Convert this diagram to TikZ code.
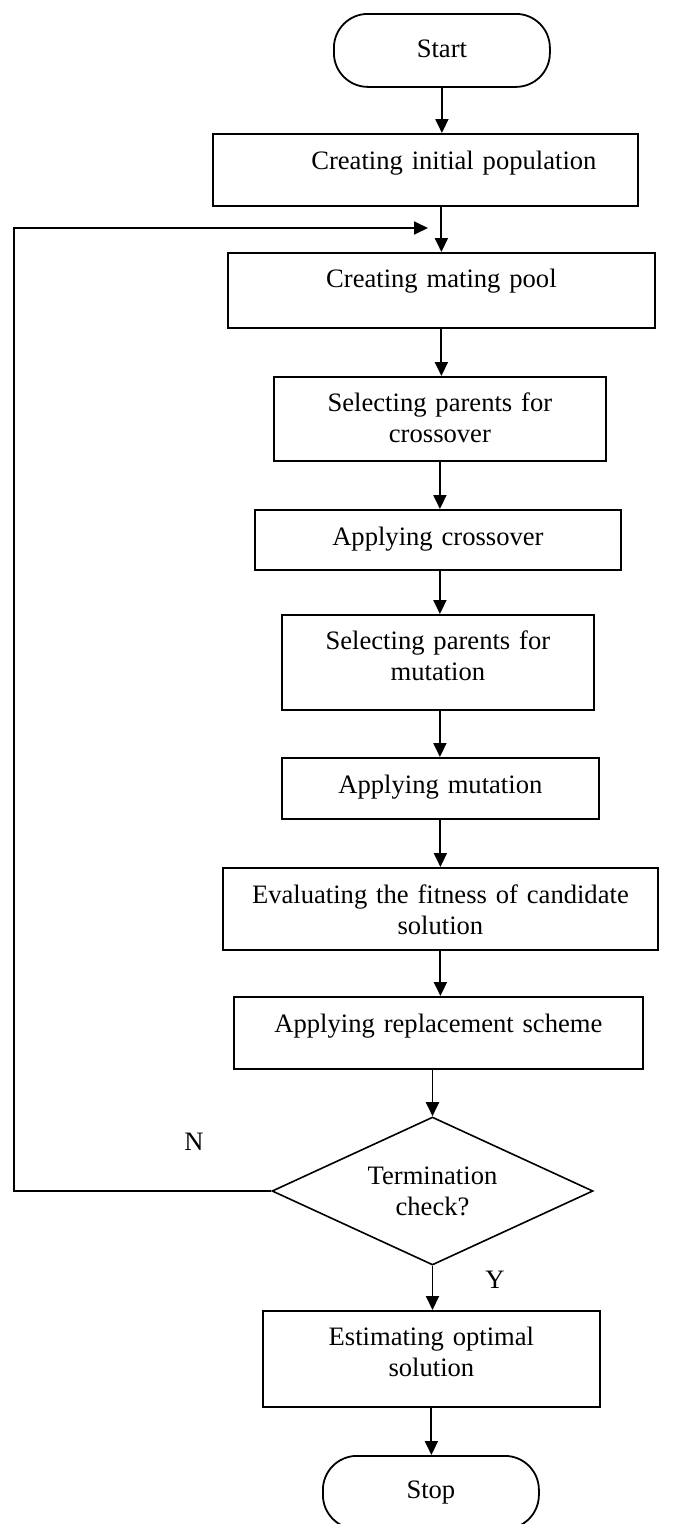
\documentclass[tikz,border=0pt]{standalone}
\usepackage{fontspec}
\setmainfont{Liberation Serif}
\usetikzlibrary{arrows.meta,shapes.geometric}

\tikzset{
  every node/.style={font={\fontsize{26.6}{31}\selectfont}},
  procbox/.style={draw, line width=1.8pt, rectangle, anchor=north west,
    inner sep=0pt, align=center},
  termbox/.style={procbox, rounded corners=34pt},
  decbox/.style={draw, line width=1.6pt, diamond, inner sep=0pt, aspect=2.17,
    minimum width=321pt, minimum height=148pt, align=center},
  arr/.style={line width=1.9pt, -{Triangle[length=14pt,width=13pt]}},
  lbl/.style={inner sep=0pt}
}

\begin{document}
\begin{tikzpicture}[x=1pt,y=-1pt]
\useasboundingbox (0,0) rectangle (685,1524);

% process steps, placed by their top-left corner
\node[termbox, text width=216pt, text height=44pt, text depth=29pt] (start) at (333,13) {Start};
\node[procbox, text width=425pt, text height=36pt, text depth=36pt] (init) at (212,133) {\hspace*{57pt}Creating initial population};
\node[procbox, text width=427pt, text height=35pt, text depth=40pt] (pool) at (227,252) {Creating mating pool};
\node[procbox, text width=332pt, text height=35pt, text depth=49pt] (selx) at (273,376) {Selecting parents for\\crossover};
\node[procbox, text width=366pt, text height=36pt, text depth=24pt] (cross) at (254,509) {Applying crossover};
\node[procbox, text width=312pt, text height=35pt, text depth=60pt] (selm) at (281,614) {Selecting parents for\\mutation};
\node[procbox, text width=317pt, text height=36pt, text depth=25pt] (mut) at (281,757) {Applying mutation};
\node[procbox, text width=435pt, text height=36pt, text depth=46pt] (eval) at (222,867) {Evaluating the fitness of candidate\\solution};
\node[procbox, text width=409pt, text height=36pt, text depth=36pt] (repl) at (233,996) {Applying replacement scheme};
\node[decbox] (dec) at (432.5,1191) {Termination\\check?};
\node[procbox, text width=337pt, text height=35pt, text depth=61pt] (est) at (262,1310) {Estimating optimal\\solution};
\node[termbox, text width=216pt, text height=43pt, text depth=30pt] (stop) at (322,1455) {Stop};

% branch labels
\node[lbl] (nlab) at (194,1142) {N};
\node[lbl] (ylab) at (495,1280) {Y};

% main flow
\draw[arr] (start.south) -- (start.south |- init.north);
\draw[arr] (pool.north |- init.south) -- (pool.north);
\draw[arr] (pool.south) -- (pool.south |- selx.north);
\draw[arr] (selx.south) -- (selx.south |- cross.north);
\draw[arr] (selx.south |- cross.south) -- (selx.south |- selm.north);
\draw[arr] (selx.south |- selm.south) -- (selx.south |- mut.north);
\draw[arr] (mut.south) -- (mut.south |- eval.north);
\draw[arr] (mut.south |- eval.south) -- (mut.south |- repl.north);
\draw[arr] (dec.north |- repl.south) -- (dec.north);
\draw[arr] (dec.south) -- (dec.south |- est.north);
\draw[arr] (est.south) -- (est.south |- stop.north);

% loop back when termination fails
\coordinate (lpc) at (14,228);
\coordinate (lpend) at (428,228);
\draw[arr] (dec.west) -- (dec.west -| lpc) -- (lpc) -- (lpend);
\end{tikzpicture}
\end{document}
